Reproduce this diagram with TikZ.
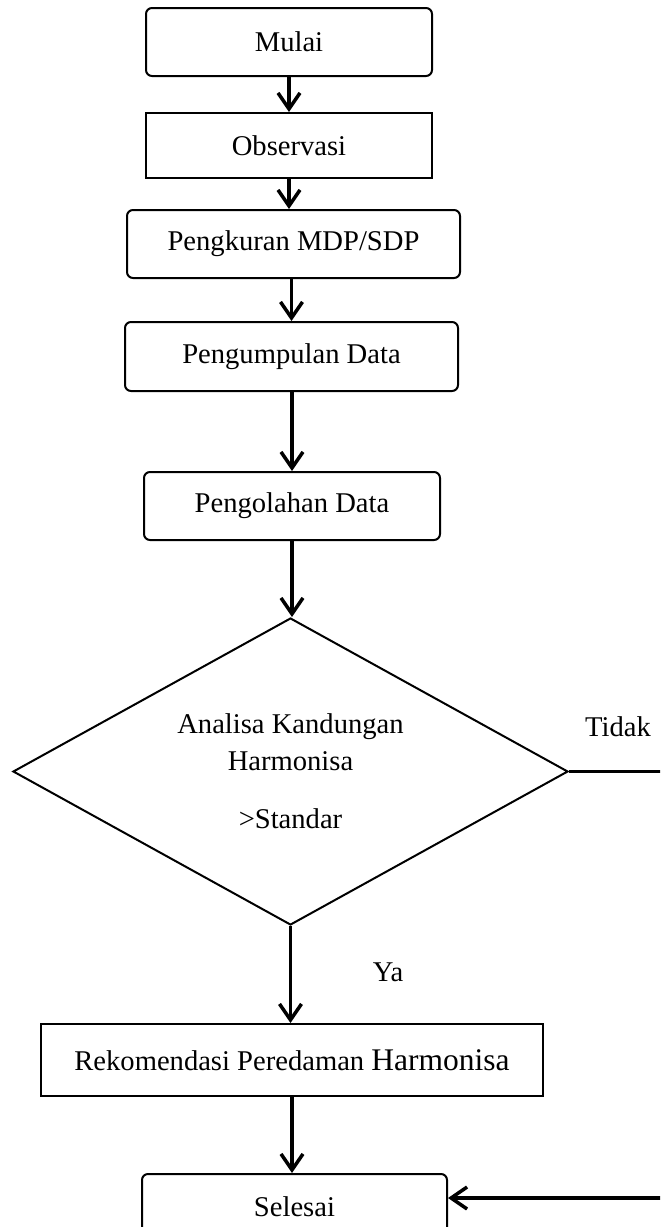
\documentclass[tikz,border=0pt]{standalone}
\usepackage{fontspec}
\setmainfont{Liberation Serif}
\usetikzlibrary{arrows.meta,shapes.geometric}
\begin{document}
\begin{tikzpicture}[x=0.5pt,y=-0.5pt,
  every node/.style={font=\fontsize{14.3}{18.5}\selectfont, inner sep=0pt},
  rbox/.style={draw, line width=1pt, rounded corners=3pt},
  sbox/.style={draw, line width=1pt},
  conn/.style={line width=1.75pt},
  arr/.style={conn, -{Straight Barb[length=8pt,width=11pt]}},
]
\useasboundingbox (0,0) rectangle (660,1227);
\clip (0,0) rectangle (660,1227);

\node[rbox, minimum width=143pt, minimum height=34pt] (mulai) at (289,42) {Mulai};
\node[sbox, minimum width=143pt, minimum height=32.5pt] (obs) at (289,145.5) {Observasi};
\node[rbox, minimum width=166.5pt, minimum height=34pt] (ukur) at (293.5,244) {Pengkuran MDP/SDP};
\node[rbox, minimum width=166.5pt, minimum height=34.5pt] (kumpul) at (291.5,356.5) {Pengumpulan Data};
\node[rbox, minimum width=148pt, minimum height=34pt] (olah) at (292,506) {Pengolahan Data};
\node[diamond, draw, line width=1pt, shape aspect=1.8, minimum width=277.5pt, minimum height=153.5pt, align=center] (dia) at (290.5,771.5) {Analisa Kandungan\\Harmonisa\\[10.5pt]>Standar};
\node[sbox, minimum width=251pt, minimum height=36pt] (rek) at (292,1060) {Rekomendasi Peredaman {\fontsize{15.75}{18.5}\selectfont Harmonisa}};
\node[rbox, minimum width=152.5pt, minimum height=33pt] (sel) at (294.5,1207) {Selesai};
\node (tidak) at (618,727) {Tidak};
\node (ya) at (388,972) {Ya};

\coordinate (lp1) at (720,771.5);
\coordinate (lp2) at (720,1198);

\draw[arr] (mulai.south) -- (mulai.south |- obs.north);
\draw[arr] (obs.south) -- (obs.south |- ukur.north);
\draw[arr] (kumpul.north |- ukur.south) -- (kumpul.north);
\draw[arr] (olah.north |- kumpul.south) -- (olah.north);
\draw[arr] (olah.south) -- (olah.south |- dia.north);
\draw[arr] (dia.south) -- (dia.south |- rek.north);
\draw[arr] (rek.south) -- (rek.south |- sel.north);
\draw[arr] (dia.east) -- (lp1) -- (lp2) -- (lp2 -| sel.east);
\end{tikzpicture}
\end{document}
